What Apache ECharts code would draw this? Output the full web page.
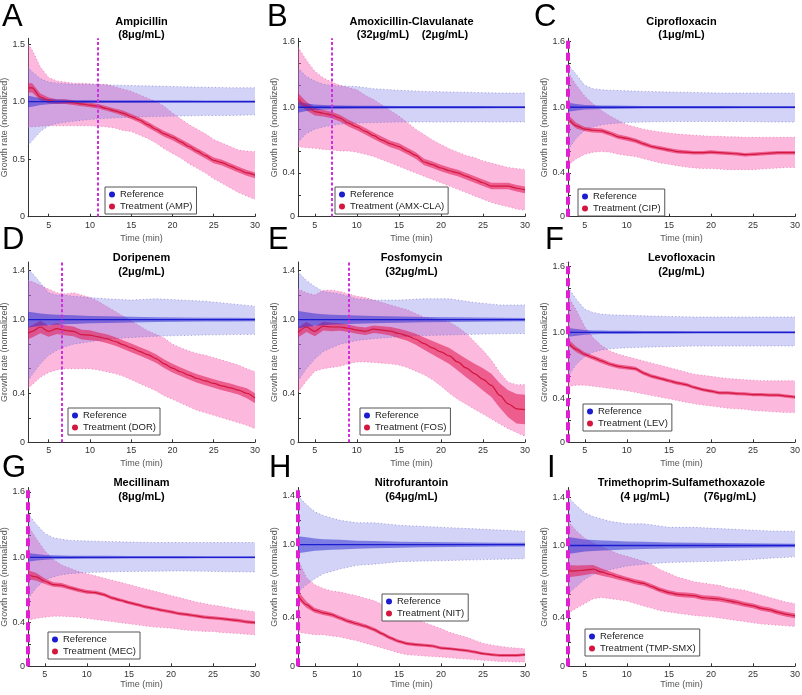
<!DOCTYPE html>
<html><head><meta charset="utf-8">
<script src="https://cdn.jsdelivr.net/npm/echarts@6/dist/echarts.min.js"></script>
<style>html,body{margin:0;padding:0;background:#fff}#c{width:802px;height:695px}</style>
</head><body><div id="c"></div>
<script>
// ---------- time grids ----------
const T3  = [3,4,5,6,7,8,9,10,11,12,13,14,15,16,17,18,19,20,21,22,23,24,25,26,27,28,29,30];
const T25 = [2.5,3,4,5,6,7,8,9,10,11,12,13,14,15,16,17,18,19,20,21,22,23,24,25,26,27,28,29,30];
const TR3  = [3,4,5,6,7,8,10,12,15,18,21,24,27,30];
const TR25 = [2.5,3,4,5,6,7,8,10,12,15,18,21,24,27,30];

// ---------- A : Ampicillin ----------
const A_refMean = [1.0,1.0,1.0,1.0,1.0,1.0,1.0,1.0,1.0,1.0,1.0,1.0,1.0,1.0,1.0];
const A_refCI   = [0.05,0.045,0.03,0.022,0.018,0.016,0.015,0.013,0.012,0.012,0.011,0.011,0.01,0.01,0.01];
const A_refLo   = [0.62,0.66,0.74,0.79,0.81,0.82,0.83,0.845,0.855,0.865,0.87,0.875,0.88,0.88,0.885];
const A_refHi   = [1.30,1.26,1.20,1.17,1.16,1.155,1.15,1.15,1.145,1.14,1.135,1.13,1.125,1.12,1.12];
const A_trtMean = [1.12,1.12,1.04,1.01,1.0,1.0,0.99,0.98,0.97,0.96,0.94,0.92,0.9,0.87,0.84,0.8,0.76,0.72,0.69,0.65,0.61,0.57,0.53,0.49,0.47,0.44,0.41,0.38,0.36];
const A_trtCI   = [0.04,0.04,0.03,0.025,0.02,0.02,0.02,0.02,0.02,0.02,0.02,0.02,0.022,0.022,0.022,0.024,0.024,0.025,0.025,0.025,0.025,0.025,0.025,0.025,0.025,0.025,0.025,0.025,0.025];
const A_trtLo   = [0.78,0.78,0.785,0.79,0.79,0.79,0.79,0.79,0.79,0.785,0.78,0.77,0.75,0.74,0.71,0.68,0.64,0.59,0.55,0.51,0.46,0.42,0.38,0.33,0.29,0.25,0.21,0.18,0.15];
const A_trtHi   = [1.5,1.45,1.3,1.21,1.18,1.17,1.16,1.16,1.155,1.15,1.15,1.13,1.11,1.09,1.06,1.03,1.0,0.96,0.9,0.85,0.8,0.76,0.72,0.67,0.64,0.61,0.58,0.57,0.565];

// ---------- B : Amoxicillin-Clavulanate ----------
const B_refMean = [1.0,1.0,1.0,1.0,1.0,1.0,1.0,1.0,1.0,1.0,1.0,1.0,1.0,1.0];
const B_refCI   = [0.05,0.035,0.025,0.02,0.018,0.016,0.014,0.013,0.012,0.012,0.011,0.011,0.01,0.01];
const B_refLo   = [0.68,0.76,0.8,0.82,0.835,0.845,0.855,0.86,0.865,0.865,0.865,0.865,0.865,0.866];
const B_refHi   = [1.36,1.28,1.24,1.21,1.2,1.195,1.19,1.17,1.155,1.145,1.14,1.135,1.13,1.13];
const B_trtMean = [1.08,1.01,0.96,0.945,0.93,0.9,0.855,0.82,0.78,0.74,0.7,0.665,0.64,0.6,0.56,0.5,0.475,0.445,0.42,0.4,0.37,0.34,0.31,0.28,0.28,0.28,0.26,0.245];
const B_trtCI   = [0.05,0.04,0.035,0.03,0.03,0.03,0.03,0.03,0.03,0.03,0.03,0.03,0.03,0.03,0.03,0.03,0.03,0.03,0.03,0.03,0.03,0.03,0.03,0.03,0.03,0.03,0.03,0.03];
const B_trtLo   = [0.64,0.63,0.625,0.615,0.61,0.6,0.6,0.59,0.57,0.55,0.52,0.49,0.46,0.43,0.4,0.37,0.34,0.31,0.28,0.25,0.22,0.19,0.16,0.13,0.11,0.09,0.07,0.06];
const B_trtHi   = [1.55,1.43,1.33,1.27,1.23,1.2,1.18,1.16,1.11,1.07,1.02,0.97,0.92,0.86,0.8,0.75,0.7,0.66,0.62,0.59,0.56,0.54,0.51,0.49,0.47,0.45,0.44,0.43];

// ---------- C : Ciprofloxacin ----------
const C_refMean = [1.0,1.0,1.0,1.0,1.0,1.0,1.0,1.0,1.0,1.0,1.0,1.0,1.0,1.0];
const C_refCI   = [0.04,0.03,0.02,0.018,0.016,0.015,0.013,0.012,0.012,0.011,0.011,0.01,0.01,0.01];
const C_refLo   = [0.61,0.72,0.79,0.82,0.84,0.85,0.86,0.865,0.87,0.87,0.87,0.87,0.865,0.865];
const C_refHi   = [1.39,1.3,1.2,1.17,1.16,1.155,1.15,1.145,1.14,1.135,1.13,1.13,1.13,1.13];
const C_trtMean = [0.9,0.83,0.8,0.79,0.785,0.76,0.73,0.715,0.695,0.665,0.64,0.625,0.61,0.595,0.59,0.585,0.585,0.59,0.585,0.58,0.575,0.567,0.57,0.575,0.58,0.585,0.585,0.585];
const C_trtCI   = [0.03,0.025,0.02,0.02,0.02,0.02,0.02,0.02,0.02,0.02,0.018,0.018,0.018,0.018,0.016,0.016,0.016,0.016,0.016,0.016,0.016,0.016,0.016,0.016,0.016,0.016,0.016,0.016];
const C_trtLo   = [0.47,0.53,0.57,0.59,0.595,0.59,0.57,0.56,0.55,0.53,0.51,0.49,0.48,0.465,0.455,0.445,0.44,0.44,0.435,0.43,0.43,0.43,0.43,0.435,0.44,0.445,0.45,0.45];
const C_trtHi   = [1.32,1.2,1.1,1.03,0.97,0.92,0.88,0.84,0.82,0.8,0.785,0.775,0.765,0.755,0.75,0.745,0.74,0.735,0.735,0.73,0.73,0.725,0.725,0.725,0.725,0.725,0.725,0.725];

// ---------- D : Doripenem ----------
const D_refMean = [1.0,1.0,1.0,1.0,1.0,1.0,1.0,1.0,1.0,1.0,1.0,1.0,1.0,1.0,1.0];
const D_refCI   = [0.065,0.06,0.05,0.045,0.04,0.037,0.035,0.03,0.027,0.023,0.02,0.018,0.016,0.015,0.014];
const D_refLo   = [0.5,0.55,0.64,0.71,0.75,0.78,0.8,0.82,0.84,0.855,0.865,0.87,0.875,0.878,0.88];
const D_refHi   = [1.41,1.38,1.3,1.22,1.2,1.2,1.19,1.18,1.17,1.16,1.17,1.16,1.15,1.13,1.11];
const D_trtMean = [0.89,0.905,0.94,0.905,0.927,0.913,0.905,0.878,0.873,0.86,0.845,0.824,0.797,0.77,0.742,0.715,0.683,0.64,0.605,0.575,0.547,0.52,0.5,0.48,0.46,0.444,0.425,0.4,0.36];
const D_trtCI   = [0.05,0.05,0.05,0.045,0.045,0.04,0.04,0.04,0.04,0.035,0.035,0.035,0.035,0.035,0.035,0.035,0.035,0.035,0.035,0.035,0.035,0.035,0.035,0.035,0.035,0.035,0.035,0.04,0.04];
const D_trtLo   = [0.44,0.47,0.53,0.57,0.59,0.6,0.6,0.6,0.6,0.59,0.575,0.56,0.54,0.51,0.48,0.45,0.42,0.38,0.35,0.32,0.29,0.26,0.24,0.22,0.2,0.18,0.16,0.14,0.11];
const D_trtHi   = [1.32,1.31,1.28,1.25,1.22,1.21,1.22,1.2,1.18,1.15,1.11,1.07,1.03,0.99,0.95,0.91,0.88,0.85,0.8,0.77,0.745,0.725,0.71,0.69,0.67,0.65,0.63,0.6,0.575];

// ---------- E : Fosfomycin ----------
const E_refMean = [1.0,1.0,1.0,1.0,1.0,1.0,1.0,1.0,1.0,1.0,1.0,1.0,1.0,1.0];
const E_refCI   = [0.07,0.06,0.05,0.045,0.04,0.037,0.033,0.03,0.025,0.022,0.019,0.017,0.015,0.014];
const E_refLo   = [0.5,0.6,0.68,0.74,0.77,0.8,0.83,0.845,0.86,0.87,0.875,0.88,0.885,0.887];
const E_refHi   = [1.39,1.32,1.27,1.23,1.22,1.21,1.17,1.16,1.16,1.17,1.17,1.14,1.12,1.12];
const E_trtMean = [0.895,0.94,0.905,0.947,0.94,0.94,0.93,0.915,0.905,0.922,0.915,0.906,0.887,0.868,0.84,0.805,0.77,0.737,0.704,0.655,0.606,0.56,0.513,0.464,0.382,0.314,0.273,0.267];
const E_trtCI   = [0.04,0.04,0.04,0.035,0.035,0.03,0.03,0.03,0.03,0.03,0.032,0.035,0.038,0.04,0.045,0.05,0.055,0.06,0.065,0.07,0.075,0.08,0.09,0.095,0.1,0.11,0.12,0.12];
const E_trtLo   = [0.41,0.5,0.58,0.6,0.61,0.62,0.64,0.655,0.655,0.65,0.645,0.64,0.63,0.61,0.58,0.55,0.51,0.46,0.4,0.35,0.31,0.27,0.23,0.19,0.15,0.11,0.08,0.05];
const E_trtHi   = [1.25,1.22,1.2,1.24,1.24,1.23,1.21,1.19,1.18,1.16,1.14,1.12,1.1,1.08,1.05,1.02,1.01,1.0,0.98,0.94,0.89,0.82,0.75,0.67,0.57,0.49,0.47,0.47];

// ---------- F : Levofloxacin ----------
const F_refMean = [1.0,1.0,1.0,1.0,1.0,1.0,1.0,1.0,1.0,1.0,1.0,1.0,1.0,1.0];
const F_refCI   = [0.04,0.03,0.022,0.018,0.016,0.015,0.014,0.013,0.012,0.011,0.011,0.01,0.01,0.01];
const F_refLo   = [0.6,0.71,0.78,0.82,0.84,0.85,0.86,0.865,0.87,0.875,0.875,0.875,0.876,0.876];
const F_refHi   = [1.41,1.3,1.21,1.18,1.165,1.16,1.155,1.15,1.145,1.14,1.14,1.14,1.14,1.14];
const F_trtMean = [0.91,0.845,0.8,0.77,0.74,0.71,0.69,0.68,0.67,0.63,0.6,0.58,0.56,0.54,0.525,0.5,0.48,0.465,0.45,0.45,0.443,0.44,0.434,0.434,0.43,0.43,0.42,0.41];
const F_trtCI   = [0.03,0.025,0.02,0.02,0.02,0.018,0.018,0.018,0.018,0.017,0.017,0.016,0.016,0.016,0.016,0.015,0.015,0.015,0.015,0.015,0.015,0.015,0.015,0.015,0.015,0.015,0.015,0.015];
const F_trtLo   = [0.51,0.52,0.52,0.51,0.5,0.49,0.48,0.47,0.455,0.44,0.425,0.41,0.395,0.38,0.365,0.35,0.34,0.33,0.32,0.31,0.305,0.3,0.29,0.285,0.28,0.275,0.27,0.27];
const F_trtHi   = [1.33,1.2,1.05,0.95,0.88,0.83,0.8,0.78,0.76,0.74,0.72,0.7,0.68,0.66,0.64,0.62,0.61,0.6,0.59,0.58,0.575,0.57,0.565,0.56,0.56,0.56,0.56,0.56];

// ---------- G : Mecillinam ----------
const G_refMean = [1.0,1.0,1.0,1.0,1.0,1.0,1.0,1.0,1.0,1.0,1.0,1.0,1.0,1.0];
const G_refCI   = [0.04,0.03,0.022,0.018,0.016,0.015,0.014,0.013,0.012,0.011,0.011,0.01,0.01,0.01];
const G_refLo   = [0.62,0.72,0.79,0.82,0.84,0.85,0.86,0.865,0.87,0.872,0.875,0.872,0.868,0.866];
const G_refHi   = [1.4,1.3,1.22,1.18,1.165,1.155,1.15,1.145,1.14,1.135,1.135,1.135,1.135,1.135];
const G_trtMean = [0.84,0.82,0.78,0.75,0.743,0.72,0.7,0.682,0.676,0.658,0.627,0.606,0.584,0.566,0.545,0.53,0.514,0.5,0.483,0.474,0.462,0.45,0.444,0.437,0.428,0.42,0.407,0.4];
const G_trtCI   = [0.04,0.035,0.025,0.02,0.02,0.018,0.018,0.017,0.016,0.016,0.016,0.015,0.015,0.015,0.015,0.015,0.015,0.015,0.015,0.015,0.015,0.015,0.015,0.015,0.015,0.015,0.015,0.015];
const G_trtLo   = [0.42,0.44,0.45,0.46,0.46,0.455,0.45,0.44,0.43,0.42,0.41,0.4,0.39,0.38,0.37,0.36,0.355,0.35,0.34,0.33,0.325,0.32,0.32,0.31,0.305,0.3,0.295,0.29];
const G_trtHi   = [1.29,1.17,1.06,0.98,0.93,0.9,0.87,0.85,0.83,0.81,0.79,0.77,0.75,0.73,0.71,0.69,0.67,0.65,0.63,0.61,0.59,0.575,0.56,0.55,0.535,0.52,0.51,0.5];

// ---------- H : Nitrofurantoin ----------
const H_refMean = [1.0,1.0,1.0,1.0,1.0,1.0,1.0,1.0,1.0,1.0,1.0,1.0,1.0,1.0];
const H_refCI   = [0.07,0.06,0.05,0.045,0.042,0.04,0.033,0.03,0.025,0.022,0.02,0.018,0.016,0.015];
const H_refLo   = [0.61,0.67,0.72,0.76,0.78,0.8,0.83,0.84,0.86,0.865,0.87,0.875,0.88,0.885];
const H_refHi   = [1.4,1.33,1.27,1.24,1.22,1.2,1.18,1.18,1.16,1.15,1.14,1.13,1.12,1.11];
const H_trtMean = [0.584,0.507,0.46,0.44,0.425,0.397,0.37,0.35,0.33,0.304,0.268,0.233,0.205,0.186,0.178,0.173,0.167,0.15,0.145,0.137,0.13,0.118,0.104,0.096,0.09,0.09,0.09,0.096];
const H_trtCI   = [0.035,0.025,0.02,0.018,0.018,0.017,0.016,0.016,0.015,0.015,0.015,0.014,0.014,0.013,0.013,0.013,0.012,0.012,0.012,0.012,0.012,0.012,0.012,0.012,0.012,0.012,0.012,0.012];
const H_trtLo   = [0.28,0.27,0.26,0.26,0.25,0.24,0.225,0.21,0.19,0.17,0.15,0.13,0.11,0.095,0.09,0.085,0.08,0.077,0.07,0.065,0.06,0.055,0.05,0.045,0.04,0.04,0.035,0.035];
const H_trtHi   = [0.88,0.73,0.67,0.64,0.62,0.61,0.595,0.58,0.56,0.54,0.51,0.48,0.45,0.42,0.39,0.36,0.335,0.31,0.28,0.26,0.24,0.215,0.19,0.175,0.165,0.155,0.15,0.145];

// ---------- I : Trimethoprim-Sulfamethoxazole ----------
const I_refMean = [1.0,1.0,1.0,1.0,1.0,1.0,1.0,1.0,1.0,1.0,1.0,1.0,1.0,1.0];
const I_refCI   = [0.07,0.06,0.05,0.045,0.042,0.04,0.033,0.03,0.025,0.022,0.02,0.018,0.016,0.015];
const I_refLo   = [0.6,0.66,0.72,0.76,0.78,0.8,0.83,0.845,0.86,0.865,0.87,0.88,0.895,0.906];
const I_refHi   = [1.4,1.33,1.27,1.24,1.22,1.2,1.18,1.18,1.15,1.15,1.14,1.13,1.12,1.117];
const I_trtMean = [0.788,0.79,0.796,0.804,0.78,0.76,0.738,0.72,0.7,0.686,0.66,0.63,0.61,0.596,0.59,0.585,0.568,0.563,0.557,0.544,0.53,0.513,0.5,0.48,0.467,0.447,0.43,0.417];
const I_trtCI   = [0.05,0.045,0.04,0.035,0.03,0.025,0.022,0.02,0.02,0.02,0.02,0.02,0.02,0.02,0.02,0.02,0.02,0.02,0.02,0.02,0.02,0.02,0.02,0.02,0.02,0.02,0.02,0.02];
const I_trtLo   = [0.44,0.48,0.52,0.56,0.57,0.56,0.55,0.54,0.52,0.5,0.48,0.46,0.45,0.44,0.43,0.42,0.415,0.41,0.4,0.39,0.38,0.37,0.36,0.35,0.345,0.34,0.335,0.33];
const I_trtHi   = [1.2,1.12,1.06,1.02,0.99,0.96,0.93,0.91,0.89,0.87,0.84,0.8,0.77,0.74,0.72,0.7,0.69,0.68,0.67,0.65,0.64,0.63,0.61,0.59,0.57,0.55,0.53,0.52];

// ---------- panel meta ----------
const LETTERS = ['A','B','C','D','E','F','G','H','I'];
const DRUGS = ['Ampicillin','Amoxicillin-Clavulanate','Ciprofloxacin','Doripenem','Fosfomycin','Levofloxacin','Mecillinam','Nitrofurantoin','Trimethoprim-Sulfamethoxazole'];
const CONCS = [['(8μg/mL)'],['(32μg/mL)','(2μg/mL)'],['(1μg/mL)'],['(2μg/mL)'],['(32μg/mL)'],['(2μg/mL)'],['(8μg/mL)'],['(64μg/mL)'],['(4 μg/mL)','(76μg/mL)']];
const ABBR = ['AMP','AMX-CLA','CIP','DOR','FOS','LEV','MEC','NIT','TMP-SMX'];
const VLINE = [11, 7, 3, 6.6, 9, 3, 3, 3, 3];
const X_TICKS = [5,10,15,20,25,30];

const DATA = [
  {t:T25, tr:TR25, rm:A_refMean, rc:A_refCI, rl:A_refLo, rh:A_refHi, tm:A_trtMean, tc:A_trtCI, tl:A_trtLo, th:A_trtHi},
  {t:T3,  tr:TR3,  rm:B_refMean, rc:B_refCI, rl:B_refLo, rh:B_refHi, tm:B_trtMean, tc:B_trtCI, tl:B_trtLo, th:B_trtHi},
  {t:T3,  tr:TR3,  rm:C_refMean, rc:C_refCI, rl:C_refLo, rh:C_refHi, tm:C_trtMean, tc:C_trtCI, tl:C_trtLo, th:C_trtHi},
  {t:T25, tr:TR25, rm:D_refMean, rc:D_refCI, rl:D_refLo, rh:D_refHi, tm:D_trtMean, tc:D_trtCI, tl:D_trtLo, th:D_trtHi},
  {t:T3,  tr:TR3,  rm:E_refMean, rc:E_refCI, rl:E_refLo, rh:E_refHi, tm:E_trtMean, tc:E_trtCI, tl:E_trtLo, th:E_trtHi},
  {t:T3,  tr:TR3,  rm:F_refMean, rc:F_refCI, rl:F_refLo, rh:F_refHi, tm:F_trtMean, tc:F_trtCI, tl:F_trtLo, th:F_trtHi},
  {t:T3,  tr:TR3,  rm:G_refMean, rc:G_refCI, rl:G_refLo, rh:G_refHi, tm:G_trtMean, tc:G_trtCI, tl:G_trtLo, th:G_trtHi},
  {t:T3,  tr:TR3,  rm:H_refMean, rc:H_refCI, rl:H_refLo, rh:H_refHi, tm:H_trtMean, tc:H_trtCI, tl:H_trtLo, th:H_trtHi},
  {t:T3,  tr:TR3,  rm:I_refMean, rc:I_refCI, rl:I_refLo, rh:I_refHi, tm:I_trtMean, tc:I_trtCI, tl:I_trtLo, th:I_trtHi}
];

// ---------- layout / style ----------
const COL_LEFT = [28, 298, 568];
const ROW_TOP = [38.3, 262, 487.5];
const ROW_H = [178.4, 180.3, 178.8];
const PLOT_W = 227;
const YMAX = [1.55, 1.63, 1.63, 1.47, 1.47, 1.64, 1.64, 1.47, 1.48];
const YLAB = [[0,0.5,1,1.5],[0,0.4,1,1.6],[0,0.4,1,1.6],[0,0.4,1,1.4],[0,0.4,1,1.4],[0,0.4,1,1.6],[0,0.4,1,1.6],[0,0.4,1,1.4],[0,0.4,1,1.4]];
const YTICK16 = [0,0.2,0.4,0.6,0.8,1,1.2,1.4,1.6];
const YTICK14 = [0,0.2,0.4,0.6,0.8,1,1.2,1.4];
const YTICK = [[0,0.5,1,1.5],YTICK16,YTICK16,YTICK14,YTICK14,YTICK16,YTICK16,YTICK14,YTICK14];
const LEGEND_POS = [[105,187],[335,187],[578,189],[68,408],[360,408],[583,404],[48,632],[382,594],[585,629]];
const LETTER_POS = [[2,17],[267,17],[534,17],[2,240],[268,240],[545,240],[2,468],[269,468],[547,468]];
const TITLE_Y = [[22,35],[258,271.5],[483,497]];
const CONC_X = {1:[383,445], 8:[645,730]};

const FONT = '"Liberation Sans", Arial, Helvetica, sans-serif';
const C_PINK = 'rgba(249,100,180,0.45)';
const C_LAV = 'rgba(110,110,230,0.30)';
const C_RED_BAND = 'rgba(225,25,85,0.58)';
const C_BLUE_BAND = 'rgba(40,40,210,0.5)';
const C_RED = '#d3173f';
const C_BLUE = '#1c1cd0';
const E_PINK = 'rgba(225,90,160,0.8)';
const E_LAV = 'rgba(110,110,200,0.8)';

// ---------- helpers ----------
function check(name, x, y){ if (x.length !== y.length) throw new Error(name+' length '+y.length+' vs '+x.length); }
function pairs(x, y){ return x.map((t,k)=>[t, y[k]]); }
function sub(a, b){ return a.map((v,k)=> +(v - b[k]).toFixed(4)); }
function add(a, b){ return a.map((v,k)=> +(v + b[k]).toFixed(4)); }

// filled band between lo and hi, positioned through the axes (api.coord)
function band(i, x, lo, hi, fill, edge){
  return {type:'custom', xAxisIndex:i, yAxisIndex:i, silent:true, animation:false,
    data:[[x[0], lo[0]]],
    renderItem: function(params, api){
      const up = x.map((t,k)=>api.coord([t, hi[k]]));
      const dn = x.map((t,k)=>api.coord([t, lo[k]]));
      const children = [{type:'polygon', shape:{points: up.concat(dn.slice().reverse())}, style:{fill: fill}}];
      if (edge) {
        children.push({type:'polyline', shape:{points: up}, style:{stroke: edge, lineWidth:0.8, lineDash:[1,2.5], fill:null}});
        children.push({type:'polyline', shape:{points: dn}, style:{stroke: edge, lineWidth:0.8, lineDash:[1,2.5], fill:null}});
      }
      return {type:'group', children: children};
    }
  };
}

const grids = [], xAxes = [], yAxes = [], series = [], legends = [], graphics = [];

for (let i = 0; i < 9; i++) {
  const d = DATA[i];
  const r = Math.floor(i / 3), c = i % 3;
  ['rm','rc','rl','rh'].forEach(k => check(LETTERS[i]+k, d.tr, d[k]));
  ['tm','tc','tl','th'].forEach(k => check(LETTERS[i]+k, d.t, d[k]));

  grids.push({left: COL_LEFT[c], top: ROW_TOP[r], width: PLOT_W, height: ROW_H[r], show:false, outerBoundsMode:'none'});

  xAxes.push({type:'value', gridIndex:i, min: d.t[0], max: 30,
    axisLine:{show:true, onZero:false, lineStyle:{color:'#333', width:1}},
    axisTick:{show:true, inside:true, length:3, customValues: X_TICKS, lineStyle:{color:'#333'}},
    axisLabel:{show:true, customValues: X_TICKS, fontSize:9, color:'#333', margin:4, fontFamily:FONT},
    splitLine:{show:false},
    name:'Time (min)', nameLocation:'middle', nameGap: r === 2 ? 14 : 17,
    nameTextStyle:{fontSize:9, color:'#555', fontFamily:FONT}
  });

  yAxes.push({type:'value', gridIndex:i, min:0, max:YMAX[i],
    axisLine:{show:true, onZero:false, lineStyle:{color:'#333', width:1}},
    axisTick:{show:true, inside:true, length:3, customValues: YTICK[i], lineStyle:{color:'#333'}},
    axisLabel:{show:true, customValues: YLAB[i], fontSize:9, color:'#333', margin:3, fontFamily:FONT,
      formatter: v => (v === 0 ? '0' : Number(v).toFixed(1))},
    splitLine:{show:false},
    name:'Growth rate (normalized)', nameLocation:'middle', nameGap:15, nameRotate:90,
    nameTextStyle:{fontSize:9, color:'#555', fontFamily:FONT}
  });

  series.push(band(i, d.t, d.tl, d.th, C_PINK, E_PINK));
  series.push(band(i, d.tr, d.rl, d.rh, C_LAV, E_LAV));
  series.push(band(i, d.t, sub(d.tm, d.tc), add(d.tm, d.tc), C_RED_BAND, null));
  series.push(band(i, d.tr, sub(d.rm, d.rc), add(d.rm, d.rc), C_BLUE_BAND, null));

  const trtName = 'Treatment (' + ABBR[i] + ')';
  const thick = VLINE[i] <= 3;
  series.push({type:'line', name: trtName, xAxisIndex:i, yAxisIndex:i, data: pairs(d.t, d.tm),
    symbol:'none', smooth:0.3, smoothMonotone:'x', color:C_RED, lineStyle:{color:C_RED, width:1.2}, silent:true,
    markLine:{symbol:['none','none'], silent:true, label:{show:false}, emphasis:{disabled:true},
      lineStyle:{color: thick ? '#e01ed2' : '#cf2fdc', width: thick ? 4 : 2, type: thick ? [8,4] : [3,2.2], opacity:1},
      data:[{xAxis: VLINE[i]}]}
  });
  series.push({type:'line', name:'Reference', xAxisIndex:i, yAxisIndex:i, data: pairs(d.tr, d.rm),
    symbol:'none', color:C_BLUE, lineStyle:{color:C_BLUE, width:1.3}, silent:true});

  legends.push({orient:'vertical', left: LEGEND_POS[i][0], top: LEGEND_POS[i][1], selectedMode:false,
    icon:'circle', itemWidth:6, itemHeight:6, itemGap:1, itemTextGap:3, padding:[2,4,2,4],
    borderColor:'#555', borderWidth:1, backgroundColor:'#fff', z:10,
    textStyle:{fontSize:9.5, lineHeight:11, color:'#222', fontFamily:FONT},
    data:[{name:'Reference', itemStyle:{color:C_BLUE}}, {name:trtName, itemStyle:{color:C_RED}}]
  });

  graphics.push({type:'text', x: LETTER_POS[i][0], y: LETTER_POS[i][1], z:20,
    style:{text: LETTERS[i], font:'31px ' + FONT, fill:'#000', align:'left', verticalAlign:'middle'}});
  const cx = COL_LEFT[c] + PLOT_W / 2;
  graphics.push({type:'text', x: cx, y: TITLE_Y[r][0], z:20,
    style:{text: DRUGS[i], font:'bold 11px ' + FONT, fill:'#000', align:'center', verticalAlign:'middle'}});
  const cxs = CONC_X[i] || [cx];
  CONCS[i].forEach((s, k) => {
    graphics.push({type:'text', x: cxs[k], y: TITLE_Y[r][1], z:20,
      style:{text: s, font:'bold 11px ' + FONT, fill:'#000', align:'center', verticalAlign:'middle'}});
  });
}

const chart = echarts.init(document.getElementById('c'), null, {renderer:'canvas', width:802, height:695});
chart.setOption({
  animation:false,
  backgroundColor:'#fff',
  textStyle:{fontFamily:FONT},
  grid: grids, xAxis: xAxes, yAxis: yAxes, series: series, legend: legends, graphic: graphics
});
</script></body></html>
